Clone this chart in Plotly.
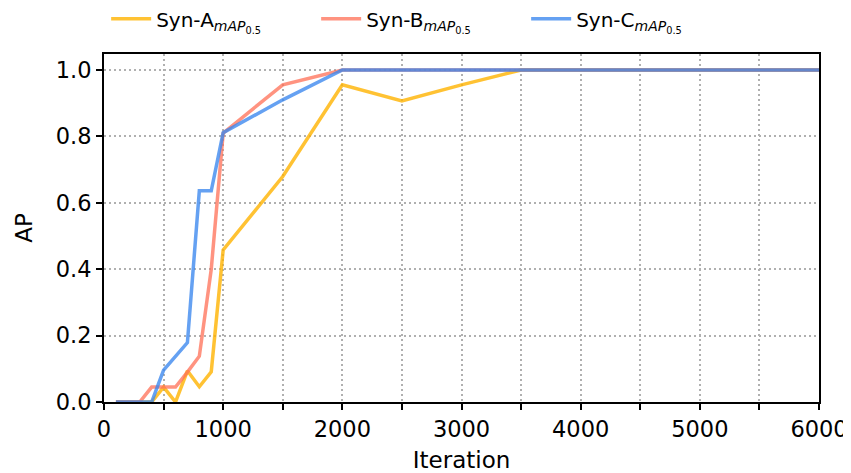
import plotly.graph_objects as go

iterations = [100, 200, 300, 400, 500, 600, 700, 800, 900, 1000, 1500, 2000,
              2500, 3000, 3500, 4000, 4500, 5000, 5500, 6000]
syn_a = [0, 0, 0, 0, 0.045, 0, 0.094, 0.046, 0.091, 0.458, 0.679, 0.955,
         0.907, 0.955, 1, 1, 1, 1, 1, 1]
syn_b = [0, 0, 0, 0.045, 0.045, 0.045, 0.09, 0.138, 0.40, 0.81, 0.955, 1,
         1, 1, 1, 1, 1, 1, 1, 1]
syn_c = [0, 0, 0, 0, 0.096, 0.137, 0.179, 0.636, 0.636, 0.811, 0.91, 1,
         1, 1, 1, 1, 1, 1, 1, 1]

series_names = ["Syn-A", "Syn-B", "Syn-C"]
x_tick_vals = [0, 500, 1000, 1500, 2000, 2500, 3000, 3500, 4000, 4500, 5000, 5500, 6000]
x_tick_text = ["0", "", "1000", "", "2000", "", "3000", "", "4000", "", "5000", "", "6000"]
y_tick_vals = [0.0, 0.2, 0.4, 0.6, 0.8, 1.0]

colors = ["rgba(255,179,0,0.8)", "rgba(255,111,85,0.75)", "rgba(58,134,238,0.78)"]

fig = go.Figure()
for name, ys, c in zip(series_names, [syn_a, syn_b, syn_c], colors):
    fig.add_trace(go.Scatter(
        x=iterations, y=ys, mode="lines",
        name=f"{name}<sub><i>mAP</i><sub>0.5</sub></sub>",
        line=dict(color=c, width=3.5),
    ))

axis_common = dict(
    showline=True, linecolor="black", linewidth=2, mirror=True,
    ticks="outside", ticklen=6, tickwidth=1.5, tickcolor="black",
    showgrid=True, gridcolor="#b0b0b0", gridwidth=1.5, griddash="2px,3px",
    zeroline=False,
    tickfont=dict(family="DejaVu Sans", size=22.5, color="black"),
    title_font=dict(family="DejaVu Sans", size=23, color="black"),
)

fig.update_xaxes(range=[0, 6000], tickmode="array", tickvals=x_tick_vals,
                 ticktext=x_tick_text, title_text="Iteration", title_standoff=11,
                 **axis_common)
fig.update_yaxes(range=[0, 1.048], tickmode="array", tickvals=y_tick_vals,
                 tickformat=".1f", title_text="AP", title_standoff=17,
                 **axis_common)

# the page body adds an 8px offset, so the figure is drawn 8px smaller
fig.update_layout(
    width=843, height=465,
    margin=dict(l=96, r=32, t=46, b=71, autoexpand=False),
    plot_bgcolor="white", paper_bgcolor="white",
    font=dict(family="DejaVu Sans", color="black"),
    legend=dict(orientation="h", x=0.003, xanchor="left", y=1.045, yanchor="bottom",
                font=dict(family="DejaVu Sans", size=20, color="black"),
                entrywidth=155, entrywidthmode="pixels",
                itemwidth=40,
                bgcolor="rgba(0,0,0,0)"),
)

fig.write_html("out.html")
